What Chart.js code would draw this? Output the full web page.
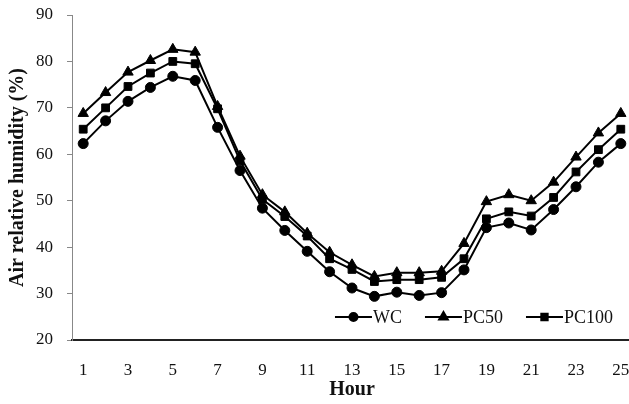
<!DOCTYPE html>
<html>
<head>
<meta charset="utf-8">
<script src="https://cdn.jsdelivr.net/npm/chart.js@4"></script>
<style>
html,body{margin:0;padding:0;background:#fff;}
#wrap{width:629px;height:404px;position:relative;overflow:hidden;}
</style>
</head>
<body>
<div id="wrap"><canvas id="c" width="629" height="404"></canvas></div>
<script>
const hours = ['1','2','3','4','5','6','7','8','9','10','11','12','13','14','15','16','17','18','19','20','21','22','23','24','25'];
const wc    = [62.3,67.2,71.4,74.4,76.8,75.9,65.8,56.5,48.4,43.6,39.1,34.7,31.2,29.4,30.3,29.6,30.2,35.1,44.2,45.2,43.7,48.1,53.0,58.3,62.3];
const pc50  = [68.8,73.3,77.7,80.2,82.6,82.0,70.3,59.6,51.3,47.6,43.0,38.9,36.2,33.7,34.5,34.5,34.8,40.8,49.8,51.3,50.0,54.0,59.4,64.6,68.8];
const pc100 = [65.4,70.0,74.6,77.5,80.0,79.5,69.8,58.6,50.3,46.6,42.4,37.5,35.2,32.6,33.0,33.0,33.5,37.5,46.1,47.6,46.7,50.7,56.2,61.0,65.4];
const seriesNames = ['WC','PC50','PC100'];
const yTitle = 'Air relative humidity (%)';
const xTitle = 'Hour';

const FONT = "'Liberation Serif', 'DejaVu Serif', serif";
const PLOT_RIGHT = 632;

// extend the plot area slightly past the canvas edge, as in the original figure
const stretchPlugin = {
  id: 'stretchRight',
  afterLayout(chart) {
    const xs = chart.scales.x;
    chart.chartArea.right = PLOT_RIGHT;
    chart.chartArea.width = PLOT_RIGHT - chart.chartArea.left;
    xs.right = PLOT_RIGHT;
    xs.width = PLOT_RIGHT - xs.left;
    xs.configure();
  }
};

const legendPlugin = {
  id: 'inlineLegend',
  afterDraw(chart) {
    const ctx = chart.ctx;
    const area = chart.chartArea;
    const y = area.bottom - 23;
    const lineLen = 37, gapText = 1, gapItem = 23;
    ctx.save();
    ctx.font = "18px " + FONT;
    ctx.textBaseline = 'middle';
    const items = chart.data.datasets.map(ds => ({ds, w: lineLen + gapText + ctx.measureText(ds.label).width}));
    let total = items.reduce((s, it) => s + it.w, 0) + gapItem * (items.length - 1);
    let x = 613 - total;
    items.forEach(it => {
      const ds = it.ds;
      ctx.strokeStyle = '#000';
      ctx.lineWidth = 2;
      ctx.beginPath();
      ctx.moveTo(x, y);
      ctx.lineTo(x + lineLen, y);
      ctx.stroke();
      ctx.fillStyle = '#000';
      Chart.helpers.drawPoint(ctx, {pointStyle: ds.pointStyle, radius: ds.pointRadius - 1, borderWidth: 1, rotation: 0}, x + lineLen / 2, y);
      ctx.fillStyle = '#111';
      ctx.fillText(ds.label, x + lineLen + gapText, y + 1);
      x += it.w + gapItem;
    });
    ctx.restore();
  }
};

function mkDs(label, data, style, r) {
  return {
    label, data,
    borderColor: '#000', backgroundColor: '#000',
    borderWidth: 2,
    pointStyle: style, pointRadius: r, pointHoverRadius: r,
    pointBackgroundColor: '#000', pointBorderColor: '#000', pointBorderWidth: 1,
    tension: 0, fill: false
  };
}

new Chart(document.getElementById('c'), {
  type: 'line',
  data: {
    labels: hours,
    datasets: [
      mkDs(seriesNames[0], wc, 'circle', 5),
      mkDs(seriesNames[1], pc50, 'triangle', 6),
      mkDs(seriesNames[2], pc100, 'rect', 5.5)
    ]
  },
  options: {
    responsive: false,
    animation: false,
    devicePixelRatio: 1,
    layout: { padding: { top: 15, right: 0, left: 0, bottom: 0 } },
    plugins: {
      legend: { display: false },
      tooltip: { enabled: false }
    },
    scales: {
      x: {
        type: 'category',
        offset: true,
        grid: { display: false, drawTicks: false },
        border: { display: true, color: '#222', width: 2 },
        ticks: {
          autoSkip: false, maxRotation: 0, minRotation: 0,
          color: '#111', padding: 20,
          font: { family: FONT, size: 17 },
          callback: function(v, i) { return i % 2 === 0 ? this.getLabelForValue(v) : ''; }
        },
        title: { display: true, text: xTitle, color: '#111', font: { family: FONT, size: 20, weight: 'bold' }, padding: { top: 0, bottom: 2 } },
        afterFit(scale) { scale.height = 64; scale.paddingLeft = 0; scale.paddingRight = 0; }
      },
      y: {
        min: 20, max: 90,
        grid: { display: true, drawOnChartArea: false, drawTicks: true, tickLength: 5, color: '#888', lineWidth: 1 },
        border: { display: true, color: '#888', width: 1 },
        ticks: { stepSize: 10, color: '#111', padding: 14, font: { family: FONT, size: 17 } },
        title: { display: true, text: yTitle, color: '#111', font: { family: FONT, size: 20, weight: 'bold' }, padding: { top: 6, bottom: 0 } },
        afterFit(scale) { scale.width = 72; scale.paddingTop = 0; scale.paddingBottom = 0; }
      }
    }
  },
  plugins: [stretchPlugin, legendPlugin]
});
</script>
</body>
</html>
